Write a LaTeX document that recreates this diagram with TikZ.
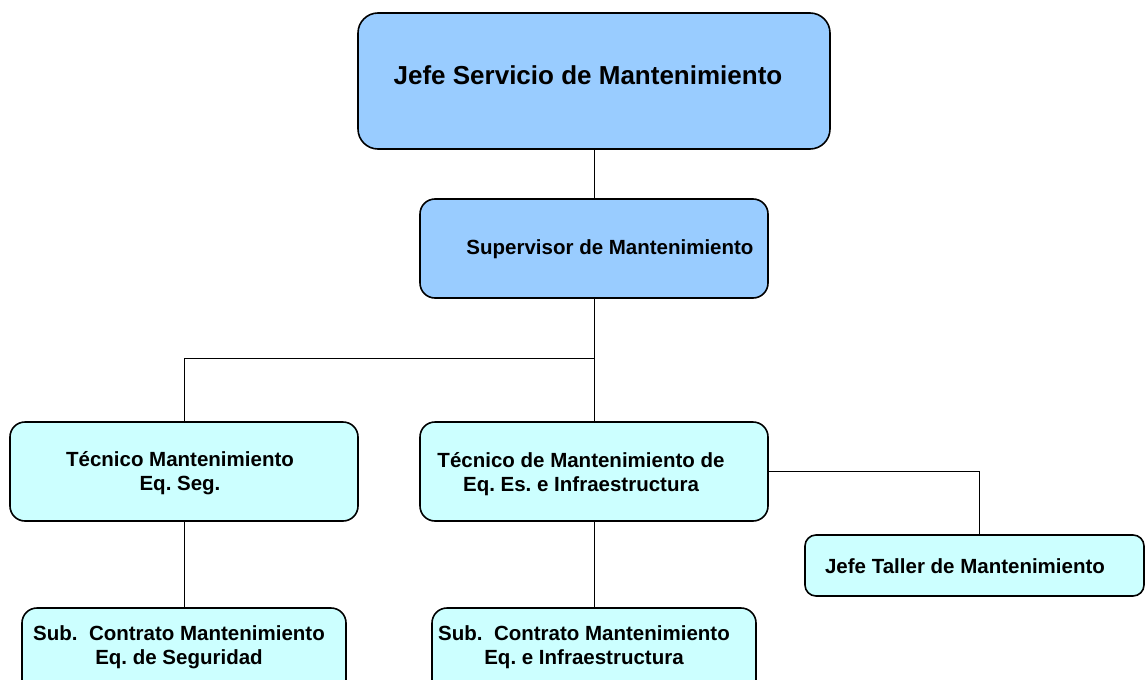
\documentclass[tikz,border=0pt]{standalone}
\usepackage{fontspec}
\setmainfont{Liberation Sans}
\frenchspacing
\definecolor{mandoazul}{HTML}{99CCFF}
\definecolor{tecnicocian}{HTML}{CCFFFF}

\begin{document}
\begin{tikzpicture}[x=1pt,y=-1pt,
		cargo/.style={draw=black, line width=1.6pt, rounded corners=15pt, inner sep=0pt},
		mando/.style={cargo, fill=mandoazul},
		tecnico/.style={cargo, fill=tecnicocian},
		rotulo/.style={font=\bfseries\fontsize{20.5}{23.5}\selectfont, align=center, inner sep=0pt},
		linea/.style={draw=black, line width=0.9pt}]
		\clip (0,0) rectangle (1146,680);

		% Jefatura
		\node[mando, rounded corners=20pt, minimum width=472pt, minimum height=136pt] (jefe) at (594,81) {};
		\node[rotulo, font=\bfseries\fontsize{26}{30}\selectfont] (tjefe) at (588,75) {Jefe Servicio de Mantenimiento};
		\node[mando, minimum width=348pt, minimum height=99pt] (super) at (594,248.5) {};
		\node[rotulo] (tsuper) at (610,249) {Supervisor de Mantenimiento};

		% Tecnicos
		\node[tecnico, minimum width=348pt, minimum height=99pt] (tecseg) at (184,471.5) {};
		\node[rotulo] (ttecseg) at (180,473) {Técnico Mantenimiento\\Eq. Seg.};
		\node[tecnico, minimum width=348pt, minimum height=99pt] (tecinf) at (594,471.5) {};
		\node[rotulo] (ttecinf) at (581,474) {Técnico de Mantenimiento de\\Eq. Es. e Infraestructura};
		\node[tecnico, rounded corners=11pt, minimum width=339pt, minimum height=61pt] (taller) at (974.5,565.5) {};
		\node[rotulo] (ttaller) at (965,566) {Jefe Taller de Mantenimiento};

		% Subcontratas
		\node[tecnico, minimum width=324pt, minimum height=99pt] (subseg) at (184,657.5) {};
		\node[rotulo] (tsubseg) at (179,647) {Sub.\ \ Contrato Mantenimiento\\Eq. de Seguridad};
		\node[tecnico, minimum width=324pt, minimum height=99pt] (subinf) at (594,657.5) {};
		\node[rotulo] (tsubinf) at (584,647) {Sub.\ \ Contrato Mantenimiento\\Eq. e Infraestructura};

		% Lineas
		\coordinate (reparto) at (594,358);
		\draw[linea] (jefe.south) -- (super.north);
		\draw[linea] (super.south) -- (reparto) -| (tecseg.north);
		\draw[linea] (reparto) -- (tecinf.north);
		\draw[linea] (tecseg.south) -- (subseg.north);
		\draw[linea] (tecinf.south) -- (subinf.north);
		\draw[linea] (tecinf.east) -| ([xshift=4.5pt]taller.north);
	\end{tikzpicture}
\end{document}
